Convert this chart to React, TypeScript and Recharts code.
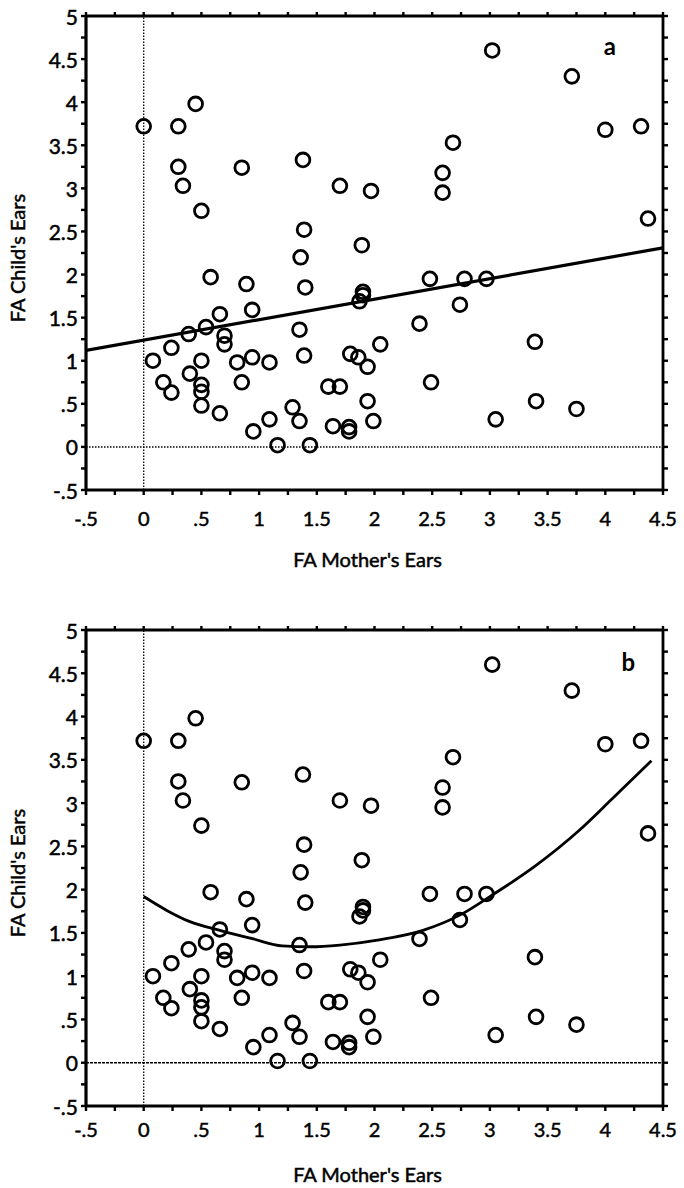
import React from "react";
import {
  ComposedChart,
  Scatter,
  Line,
  XAxis,
  YAxis,
  ReferenceLine,
  ReferenceDot,
} from "recharts";

// FA Mother's Ears (x) vs FA Child's Ears (y)
const motherFA = [
  0, 0.3, 0.45, 0.3, 0.34, 0.5, 0.85, 1.38, 1.7, 1.39, 1.36, 0.58, 0.89, 1.4,
  3.02, 3.71, 4.0, 4.31, 2.68, 2.59, 2.59, 1.97, 4.37, 1.89, 2.48, 2.78, 2.97,
  1.9, 1.9, 1.87, 2.39, 2.74, 3.39, 2.05, 1.79, 1.86, 1.94, 2.49, 1.6, 1.7,
  1.94, 3.4, 3.75, 3.05, 1.99, 1.78, 1.78, 1.64, 0.66, 0.94, 0.54, 0.39, 0.7,
  0.7, 1.35, 0.24, 0.08, 0.5, 0.81, 0.94, 1.09, 1.39, 0.4, 0.17, 0.24, 0.5,
  0.5, 0.5, 0.66, 0.85, 0.95, 1.09, 1.29, 1.35, 1.16, 1.44,
];
const childFA = [
  3.72, 3.72, 3.98, 3.25, 3.03, 2.74, 3.24, 3.33, 3.03, 2.52, 2.2, 1.97, 1.89,
  1.85, 4.6, 4.3, 3.68, 3.72, 3.53, 3.18, 2.95, 2.97, 2.65, 2.34, 1.95, 1.95,
  1.95, 1.8, 1.76, 1.69, 1.43, 1.65, 1.22, 1.19, 1.08, 1.04, 0.93, 0.75, 0.7,
  0.7, 0.53, 0.53, 0.44, 0.32, 0.3, 0.23, 0.18, 0.24, 1.54, 1.59, 1.39, 1.31,
  1.29, 1.19, 1.36, 1.15, 1.0, 1.0, 0.98, 1.04, 0.98, 1.06, 0.85, 0.75, 0.63,
  0.72, 0.64, 0.48, 0.39, 0.75, 0.18, 0.32, 0.46, 0.3, 0.02, 0.02,
];

// Panel a: linear fit, endpoints
const fitAX = [-0.5, 4.5];
const fitAY = [1.12, 2.31];

// Panel b: smooth fit
const fitBX = [0, 0.2, 0.4, 0.66, 0.95, 1.2, 1.45, 1.7, 2.04, 2.42, 2.76, 3.0, 3.4, 3.77, 4.06, 4.4];
const fitBY = [1.92, 1.76, 1.63, 1.53, 1.43, 1.35, 1.34, 1.36, 1.42, 1.53, 1.72, 1.92, 2.28, 2.68, 3.05, 3.49];

const xTicks = [-0.5, -0.25, 0, 0.25, 0.5, 0.75, 1, 1.25, 1.5, 1.75, 2, 2.25, 2.5, 2.75, 3, 3.25, 3.5, 3.75, 4, 4.25, 4.5];
const yTicks = [-0.5, -0.25, 0, 0.25, 0.5, 0.75, 1, 1.25, 1.5, 1.75, 2, 2.25, 2.5, 2.75, 3, 3.25, 3.5, 3.75, 4, 4.25, 4.5, 4.75, 5];

const xTitle = "FA Mother's Ears";
const yTitle = "FA Child's Ears";

const points = motherFA.map((x, i) => ({ x, y: childFA[i] }));
const lineA = fitAX.map((x, i) => ({ x, y: fitAY[i] }));
const lineB = fitBX.map((x, i) => ({ x, y: fitBY[i] }));

const FONT = "Lato, 'Open Sans', sans-serif";
const TEXT_STROKE = 0.5;
const TICK_LEN = 5;
const TICK_W = 2.4;

const fmt = (v: number) => {
  if (Math.abs(v * 2 - Math.round(v * 2)) > 1e-6) return "";
  if (v === 0) return "0";
  return String(v).replace(/^(-?)0\./, "$1.");
};

const Ring = (props: any) => {
  const { cx, cy } = props;
  if (cx == null || cy == null) return <g />;
  return <circle cx={cx} cy={cy} r={6.9} fill="none" stroke="#000" strokeWidth={2.8} />;
};

const textStyle = {
  fill: "#000",
  stroke: "#000",
  strokeWidth: TEXT_STROKE,
  fontFamily: FONT,
};

const makeBottomTick = (labelGap: number) => (props: any) => {
  const { x, y, payload } = props;
  const label = fmt(payload.value);
  return (
    <g>
      <line x1={x} x2={x} y1={y} y2={y + TICK_LEN} stroke="#000" strokeWidth={TICK_W} />
      {label && (
        <text x={x} y={y + labelGap} textAnchor="middle" fontSize={20} {...textStyle}>
          {label}
        </text>
      )}
    </g>
  );
};

const LeftTick = (props: any) => {
  const { x, y, payload } = props;
  const label = fmt(payload.value);
  return (
    <g>
      <line x1={x - TICK_LEN} x2={x} y1={y} y2={y} stroke="#000" strokeWidth={TICK_W} />
      {label && (
        <text x={x - 8} y={y} textAnchor="end" dominantBaseline="central" fontSize={21} {...textStyle}>
          {label}
        </text>
      )}
    </g>
  );
};

const TopTick = (props: any) => {
  const { x, y } = props;
  return <line x1={x} x2={x} y1={y - TICK_LEN + 1} y2={y} stroke="#000" strokeWidth={TICK_W} />;
};

const RightTick = (props: any) => {
  const { x, y } = props;
  return <line x1={x} x2={x + TICK_LEN} y1={y} y2={y} stroke="#000" strokeWidth={TICK_W} />;
};

const YTitle = (props: any) => {
  const vb = props.viewBox || {};
  const cx = 17;
  const cy = vb.y + vb.height / 2 + 5;
  return (
    <text
      x={cx}
      y={cy}
      transform={`rotate(-90, ${cx}, ${cy})`}
      textAnchor="middle"
      dominantBaseline="central"
      fontSize={20}
      {...textStyle}
    >
      {yTitle}
    </text>
  );
};

const makeXTitle = (baselineOffset: number) => (props: any) => {
  const vb = props.viewBox || {};
  const cx = vb.x + vb.width / 2 - 7;
  return (
    <text x={cx} y={vb.y + baselineOffset} textAnchor="middle" fontSize={20} {...textStyle}>
      {xTitle}
    </text>
  );
};

type PanelProps = {
  top: number;
  height: number;
  marginTop: number;
  xAxisHeight: number;
  labelGap: number;
  titleOffset: number;
  letter: string;
  letterX: number;
  letterY: number;
  fit: { x: number; y: number }[];
  fitWidth: number;
  curved: boolean;
  zeroDash: string;
};

const Panel = (p: PanelProps) => (
  <div style={{ position: "absolute", left: 0, top: p.top }}>
    <ComposedChart
      width={684}
      height={p.height}
      margin={{ top: p.marginTop - 1, right: 20, bottom: 0, left: 0 }}
    >
      <XAxis
        xAxisId="b"
        type="number"
        dataKey="x"
        domain={[-0.5, 4.5]}
        ticks={xTicks}
        interval={0}
        allowDataOverflow
        height={p.xAxisHeight}
        tickSize={0}
        tickMargin={0}
        tickLine={false}
        axisLine={false}
        tick={makeBottomTick(p.labelGap)}
        label={makeXTitle(p.titleOffset)}
      />
      <XAxis
        xAxisId="t"
        orientation="top"
        type="number"
        dataKey="x"
        domain={[-0.5, 4.5]}
        ticks={xTicks}
        interval={0}
        allowDataOverflow
        height={1}
        tickSize={0}
        tickMargin={0}
        tickLine={false}
        axisLine={false}
        tick={<TopTick />}
      />
      <YAxis
        yAxisId="l"
        type="number"
        dataKey="y"
        domain={[-0.5, 5]}
        ticks={yTicks}
        interval={0}
        allowDataOverflow
        width={86}
        tickSize={0}
        tickMargin={0}
        tickLine={false}
        axisLine={false}
        tick={<LeftTick />}
        label={<YTitle />}
      />
      <YAxis
        yAxisId="r"
        orientation="right"
        type="number"
        dataKey="y"
        domain={[-0.5, 5]}
        ticks={yTicks}
        interval={0}
        allowDataOverflow
        width={1}
        tickSize={0}
        tickMargin={0}
        tickLine={false}
        axisLine={false}
        tick={<RightTick />}
      />
      <ReferenceLine xAxisId="b" yAxisId="l" x={0} stroke="#000" strokeWidth={1.3} strokeDasharray="1.5 1.5" />
      <ReferenceLine xAxisId="b" yAxisId="l" y={0} stroke="#000" strokeWidth={1.5} strokeDasharray={p.zeroDash} />
      {/* frame */}
      <ReferenceLine xAxisId="b" yAxisId="l" x={-0.5} stroke="#000" strokeWidth={3.2} />
      <ReferenceLine xAxisId="b" yAxisId="l" x={4.5} stroke="#000" strokeWidth={2.8} />
      <ReferenceLine xAxisId="b" yAxisId="l" y={-0.5} stroke="#000" strokeWidth={3.2} />
      <ReferenceLine xAxisId="b" yAxisId="l" y={5} stroke="#000" strokeWidth={2.8} />
      <Scatter
        xAxisId="b"
        yAxisId="l"
        data={points}
        dataKey="y"
        shape={<Ring />}
        isAnimationActive={false}
      />
      <Line
        xAxisId="b"
        yAxisId="l"
        data={p.fit}
        dataKey="y"
        type={p.curved ? "monotone" : "linear"}
        stroke="#000"
        strokeWidth={p.fitWidth}
        dot={false}
        activeDot={false}
        isAnimationActive={false}
      />
      <ReferenceDot
        xAxisId="b"
        yAxisId="l"
        x={p.letterX}
        y={p.letterY}
        r={0}
        fill="none"
        stroke="none"
        label={{
          value: p.letter,
          position: "center",
          fill: "#000",
          fontFamily: FONT,
          fontSize: 24,
          fontWeight: 700,
        }}
      />
    </ComposedChart>
  </div>
);

export default function App() {
  return (
    <div style={{ position: "absolute", left: 0, top: 0, width: 684, height: 1188, background: "#fff" }}>
      <Panel
        top={0}
        height={580}
        marginTop={16}
        xAxisHeight={90}
        labelGap={36}
        titleOffset={77}
        letter="a"
        letterX={4.04}
        letterY={4.65}
        fit={lineA}
        fitWidth={3.2}
        curved={false}
        zeroDash="1.5 1.5"
      />
      <Panel
        top={580}
        height={608}
        marginTop={50}
        xAxisHeight={82}
        labelGap={31}
        titleOffset={76}
        letter="b"
        letterX={4.2}
        letterY={4.62}
        fit={lineB}
        fitWidth={2.8}
        curved={true}
        zeroDash="3 1"
      />
    </div>
  );
}
